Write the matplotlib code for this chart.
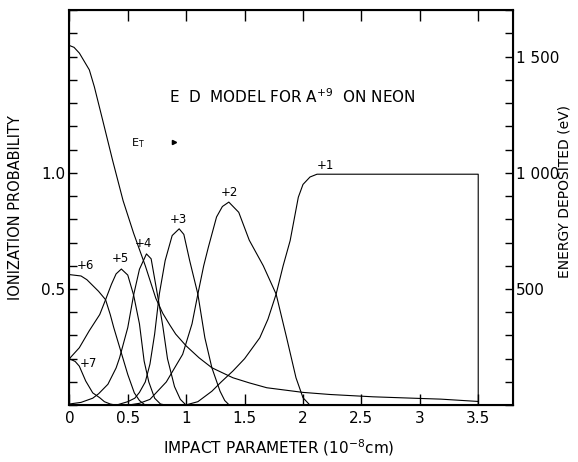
import numpy as np
import matplotlib.pyplot as plt

# impact parameter (1e-8 cm) / ionization probability, one pair per charge state
x1 = [0.99, 1.1, 1.22, 1.3, 1.4, 1.5, 1.63, 1.7, 1.77, 1.83, 1.89, 1.96, 2.0, 2.06, 2.12, 2.5, 3.0, 3.5, 3.5]
p1 = [0.0, 0.015, 0.06, 0.1, 0.147, 0.2, 0.29, 0.37, 0.478, 0.6, 0.708, 0.895, 0.95, 0.982, 0.994, 0.994, 0.994, 0.994, 0.0]

x2 = [0.5, 0.6, 0.69, 0.83, 0.97, 1.05, 1.1, 1.15, 1.19, 1.26, 1.31, 1.365, 1.45, 1.54, 1.66, 1.77, 1.86, 1.94, 2.0, 2.06]
p2 = [0.0, 0.008, 0.025, 0.1, 0.219, 0.35, 0.478, 0.6, 0.68, 0.81, 0.855, 0.874, 0.83, 0.71, 0.6, 0.478, 0.29, 0.118, 0.032, 0.0]

x3 = [0.4, 0.5, 0.56, 0.6, 0.65, 0.69, 0.73, 0.77, 0.82, 0.88, 0.94, 0.98, 1.03, 1.1, 1.16, 1.22, 1.29, 1.33, 1.37]
p3 = [0.0, 0.015, 0.03, 0.055, 0.1, 0.177, 0.306, 0.478, 0.622, 0.73, 0.759, 0.735, 0.622, 0.478, 0.29, 0.161, 0.06, 0.02, 0.0]

x4 = [0.0, 0.1, 0.2, 0.25, 0.33, 0.4, 0.43, 0.5, 0.55, 0.6, 0.66, 0.7, 0.77, 0.8, 0.84, 0.9, 0.95, 1.0]
p4 = [0.005, 0.012, 0.03, 0.049, 0.09, 0.16, 0.204, 0.334, 0.474, 0.585, 0.651, 0.63, 0.43, 0.34, 0.2, 0.08, 0.025, 0.0]

x5 = [0.0, 0.085, 0.17, 0.26, 0.31, 0.36, 0.4, 0.445, 0.5, 0.55, 0.6, 0.64, 0.68, 0.73, 0.78, 0.83]
p5 = [0.2, 0.247, 0.32, 0.39, 0.454, 0.52, 0.565, 0.586, 0.56, 0.474, 0.35, 0.19, 0.1, 0.03, 0.005, 0.0]

x6 = [0.0, 0.1, 0.15, 0.2, 0.25, 0.31, 0.35, 0.38, 0.44, 0.5, 0.556, 0.6, 0.65]
p6 = [0.562, 0.556, 0.54, 0.515, 0.49, 0.454, 0.39, 0.334, 0.233, 0.132, 0.053, 0.02, 0.0]

x7 = [0.0, 0.05, 0.085, 0.14, 0.2, 0.26, 0.3, 0.35, 0.4]
p7 = [0.2, 0.188, 0.168, 0.104, 0.053, 0.032, 0.015, 0.005, 0.0]

# energy deposited (eV)
xe = [0.0, 0.04, 0.086, 0.171, 0.214, 0.285, 0.37, 0.46, 0.55, 0.65, 0.74, 0.8, 0.86, 0.91, 1.0, 1.11, 1.22, 1.4, 1.54, 1.69, 2.0, 2.23, 2.6, 3.0, 3.18, 3.5]
ed = [1548, 1540, 1515, 1443, 1370, 1227, 1054, 880, 740, 600, 460, 395, 345, 306, 255, 204, 161, 118, 96, 75, 55, 46, 36, 29, 26, 16]

states = [(x1, p1, "+1", 2.19, 1.03), (x2, p2, "+2", 1.37, 0.917),
          (x3, p3, "+3", 0.93, 0.80), (x4, p4, "+4", 0.63, 0.694),
          (x5, p5, "+5", 0.44, 0.63), (x6, p6, "+6", 0.14, 0.60),
          (x7, p7, "+7", 0.16, 0.178)]

fig = plt.figure(figsize=(5.78, 4.62), dpi=100)
ax = fig.add_axes([0.120, 0.123, 0.768, 0.855])

for xs, ps, lab, tx, ty in states:
    ax.plot(xs, ps, color="black", lw=0.8)
    ax.text(tx, ty, lab, fontsize=8.5, ha="center", va="center")

ax.set_xlim(0, 3.8)
ax.set_ylim(0, 1.7)
ax.set_xticks([0, 0.5, 1, 1.5, 2, 2.5, 3, 3.5])
ax.set_xticklabels(["0", "0.5", "1", "1.5", "2", "2.5", "3", "3.5"])
yt = np.arange(0, 1.71, 0.1)
ax.set_yticks(yt)
ax.set_yticklabels(["1.0" if abs(v - 1.0) < 1e-6 else "0.5" if abs(v - 0.5) < 1e-6 else "" for v in yt])
ax.tick_params(axis="x", direction="in", length=8, width=1, top=True, labelsize=11, pad=4)
ax.tick_params(axis="y", direction="in", length=6, width=1, labelsize=11, pad=3)
for s in ax.spines.values():
    s.set_linewidth(1.5)

ax.set_xlabel("IMPACT PARAMETER (10$^{-8}$cm)", fontsize=11)
ax.xaxis.set_label_coords(0.472, -0.082)
ax.set_ylabel("IONIZATION PROBABILITY", fontsize=10.5)
ax.yaxis.set_label_coords(-0.105, 0.5)

ax2 = ax.twinx()
ax2.plot(xe, ed, color="black", lw=0.8)
ax2.set_ylim(0, 1700)
et = list(range(0, 1701, 100))
ax2.set_yticks(et)
ax2.set_yticklabels([{500: "500", 1000: "1 000", 1500: "1 500"}.get(v, "") for v in et])
ax2.tick_params(axis="y", direction="in", length=6, width=1, labelsize=11, pad=2)
ax2.set_ylabel("ENERGY DEPOSITED (eV)", fontsize=10)
ax2.yaxis.set_label_coords(1.1, 0.54)

ax.text(1.91, 1.326, "E  D  MODEL FOR A$^{+9}$  ON NEON", fontsize=11, ha="center", va="center")
ax.text(0.59, 1.13, "E$_{\\mathregular{T}}$", fontsize=8, ha="center", va="center")
ax.plot([0.9], [1.133], marker=">", color="black", markersize=3)

fig.savefig("out.png", dpi=100)
